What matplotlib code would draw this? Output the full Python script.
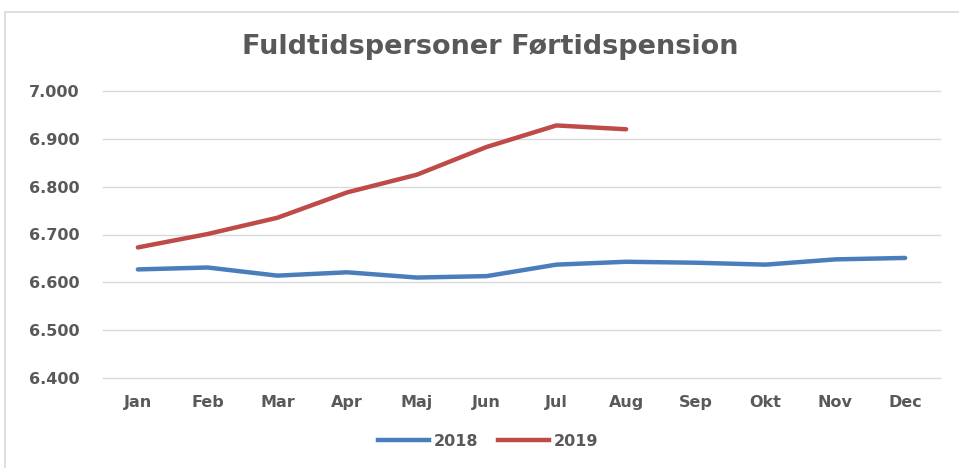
import matplotlib
matplotlib.use("Agg")
import matplotlib.pyplot as plt
from matplotlib.patches import Rectangle
from matplotlib.lines import Line2D

months = ["Jan", "Feb", "Mar", "Apr", "Maj", "Jun", "Jul", "Aug", "Sep", "Okt", "Nov", "Dec"]
values_2018 = [6627, 6631, 6614, 6621, 6610, 6613, 6637, 6643, 6641, 6637, 6648, 6651]
values_2019 = [6673, 6701, 6735, 6788, 6825, 6883, 6928, 6920]
yticks = [6400, 6500, 6600, 6700, 6800, 6900, 7000]
ytick_labels = ["6.400", "6.500", "6.600", "6.700", "6.800", "6.900", "7.000"]

W, H = 959, 468
fig = plt.figure(figsize=(W / 100, H / 100), dpi=100)
fig.patch.set_facecolor("white")

# outer chart border (cut off at right/bottom as in reference)
fig.patches.append(Rectangle((5 / W, -0.05), 1.1, (H - 12) / H + 0.05,
                             transform=fig.transFigure, fill=False,
                             edgecolor="#d9d9d9", linewidth=1.2))

ax = fig.add_axes([103 / W, 1 - 378 / H, (940 - 103) / W, (378 - 91) / H])
x = list(range(len(months)))
ax.plot(x, values_2018, color="#4a7ebb", linewidth=3.2, solid_capstyle="round", label="2018")
ax.plot(x[:len(values_2019)], values_2019, color="#be4b48", linewidth=3.2, solid_capstyle="round", label="2019")

ax.set_xlim(-0.5, len(months) - 0.5)
ax.set_ylim(6400, 7000)
ax.set_yticks(yticks)
ax.set_yticklabels(ytick_labels)
ax.set_xticks(x)
ax.set_xticklabels(months)
ax.grid(axis="y", color="#d9d9d9", linewidth=1)
for gl in ax.get_ygridlines():
    gl.set_clip_on(False)
ax.set_axisbelow(True)
for s in ax.spines.values():
    s.set_visible(False)
ax.tick_params(length=0, labelsize=11.5, colors="#595959")
ax.tick_params(axis="y", pad=17)
ax.tick_params(axis="x", pad=12)
for lab in ax.get_xticklabels() + ax.get_yticklabels():
    lab.set_fontweight("bold")

fig.text(490 / W, 1 - 47 / H, "Fuldtidspersoner Førtidspension", ha="center", va="center",
         fontsize=19.5, fontweight="bold", color="#595959")

handles = [Line2D([0], [0], color="#4a7ebb", linewidth=3.2),
           Line2D([0], [0], color="#be4b48", linewidth=3.2)]
leg = fig.legend(handles, ["2018", "2019"], loc="center", bbox_to_anchor=(488 / W, 1 - 441 / H),
                 ncol=2, frameon=False, handlelength=3.2, handletextpad=0.3, columnspacing=1.2,
                 prop={"size": 11.5, "weight": "bold"})
for t in leg.get_texts():
    t.set_color("#595959")

fig.savefig("out.png", dpi=100)
